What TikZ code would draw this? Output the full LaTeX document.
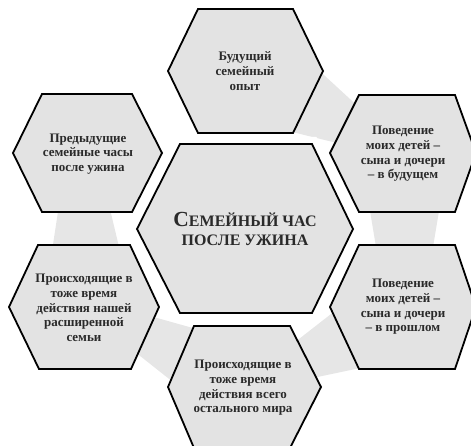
\documentclass[tikz,border=0pt]{standalone}
\usepackage{fontspec}
\setmainfont{Liberation Serif}
\usepackage{tikz}

\definecolor{hexgray}{HTML}{E3E3E3}
\definecolor{bandgray}{HTML}{E6E6E6}
\definecolor{textgray}{HTML}{2A2A2A}

\tikzset{
  hexline/.style={line width=1.8pt, line join=miter, draw=black, fill=hexgray},
  hextext/.style={align=center, text=textgray, font=\fontsize{13}{14.6}\selectfont\bfseries},
  band/.style={fill=bandgray}
}

\begin{document}
\begin{tikzpicture}[x=1pt, y=-1pt]
            \clip (0,0) rectangle (471,446);

            % Grey band between the outer hexagons
            \fill [band] (312,64) -- (363,111) -- (345,145) -- (280,129) -- cycle;
            \fill [band] (369,205) -- (440,205) -- (432,253) -- (377,253) -- cycle;
            \fill [band] (290,346) -- (340,307) -- (365,367) -- (308,379) -- cycle;
            \fill [band] (150,316) -- (200,330) -- (178,386) -- (130,348) -- cycle;
            \fill [band] (59,205) -- (109,205) -- (120,251) -- (52,251) -- cycle;

            % Centre hexagon with white halo
            \draw [line width=14pt, white, line join=miter]
                (180,144) -- (312,144) -- (353,229) -- (312,313) -- (180,313) -- (137,229) -- cycle;
            \draw [hexline]
                (180,144) -- (312,144) -- (353,229) -- (312,313) -- (180,313) -- (137,229) -- cycle;
            \node (centre) at (245,229) [align=center, text=textgray, font=\fontsize{16}{18.5}\selectfont\bfseries]
                {{\fontsize{21.5}{18.5}\selectfont С}ЕМЕЙНЫЙ ЧАС\\ПОСЛЕ УЖИНА};

            % Top hexagon
            \draw [hexline] (198,9) -- (293,9) -- (323,71) -- (293,133) -- (198,133) -- (168,71) -- cycle;
            \node (future) at (245,71) [hextext] {Будущий\\семейный\\опыт};

            % Upper right hexagon
            \draw [hexline] (359,95) -- (455,95) -- (476,153) -- (455,212) -- (359,212) -- (330,153) -- cycle;
            \node (kidsfuture) at (403,154) [hextext] {Поведение\\моих детей –\\сына и дочери\\– в будущем};

            % Lower right hexagon
            \draw [hexline] (359,245) -- (455,245) -- (476,307) -- (455,369) -- (359,369) -- (330,307) -- cycle;
            \node (kidspast) at (403,307) [hextext] {Поведение\\моих детей –\\сына и дочери\\– в прошлом};

            % Bottom hexagon
            \draw [hexline] (194,326) -- (290,326) -- (321,387) -- (290,448) -- (194,448) -- (168,387) -- cycle;
            \node (world) at (243,388) [hextext] {Происходящие в\\тоже время\\действия всего\\остального мира};

            % Lower left hexagon
            \draw [hexline] (38,245) -- (130,245) -- (159,307) -- (131,369) -- (39,369) -- (9,307) -- cycle;
            \node (family) at (84,308) [hextext] {Происходящие в\\тоже время\\действия нашей\\расширенной\\семьи};

            % Upper left hexagon
            \draw [hexline] (42,94) -- (132,94) -- (162,153) -- (132,212) -- (42,212) -- (13,153) -- cycle;
            \node (past) at (88,154) [hextext] {Предыдущие\\семейные часы\\после ужина};
\end{tikzpicture}
\end{document}
